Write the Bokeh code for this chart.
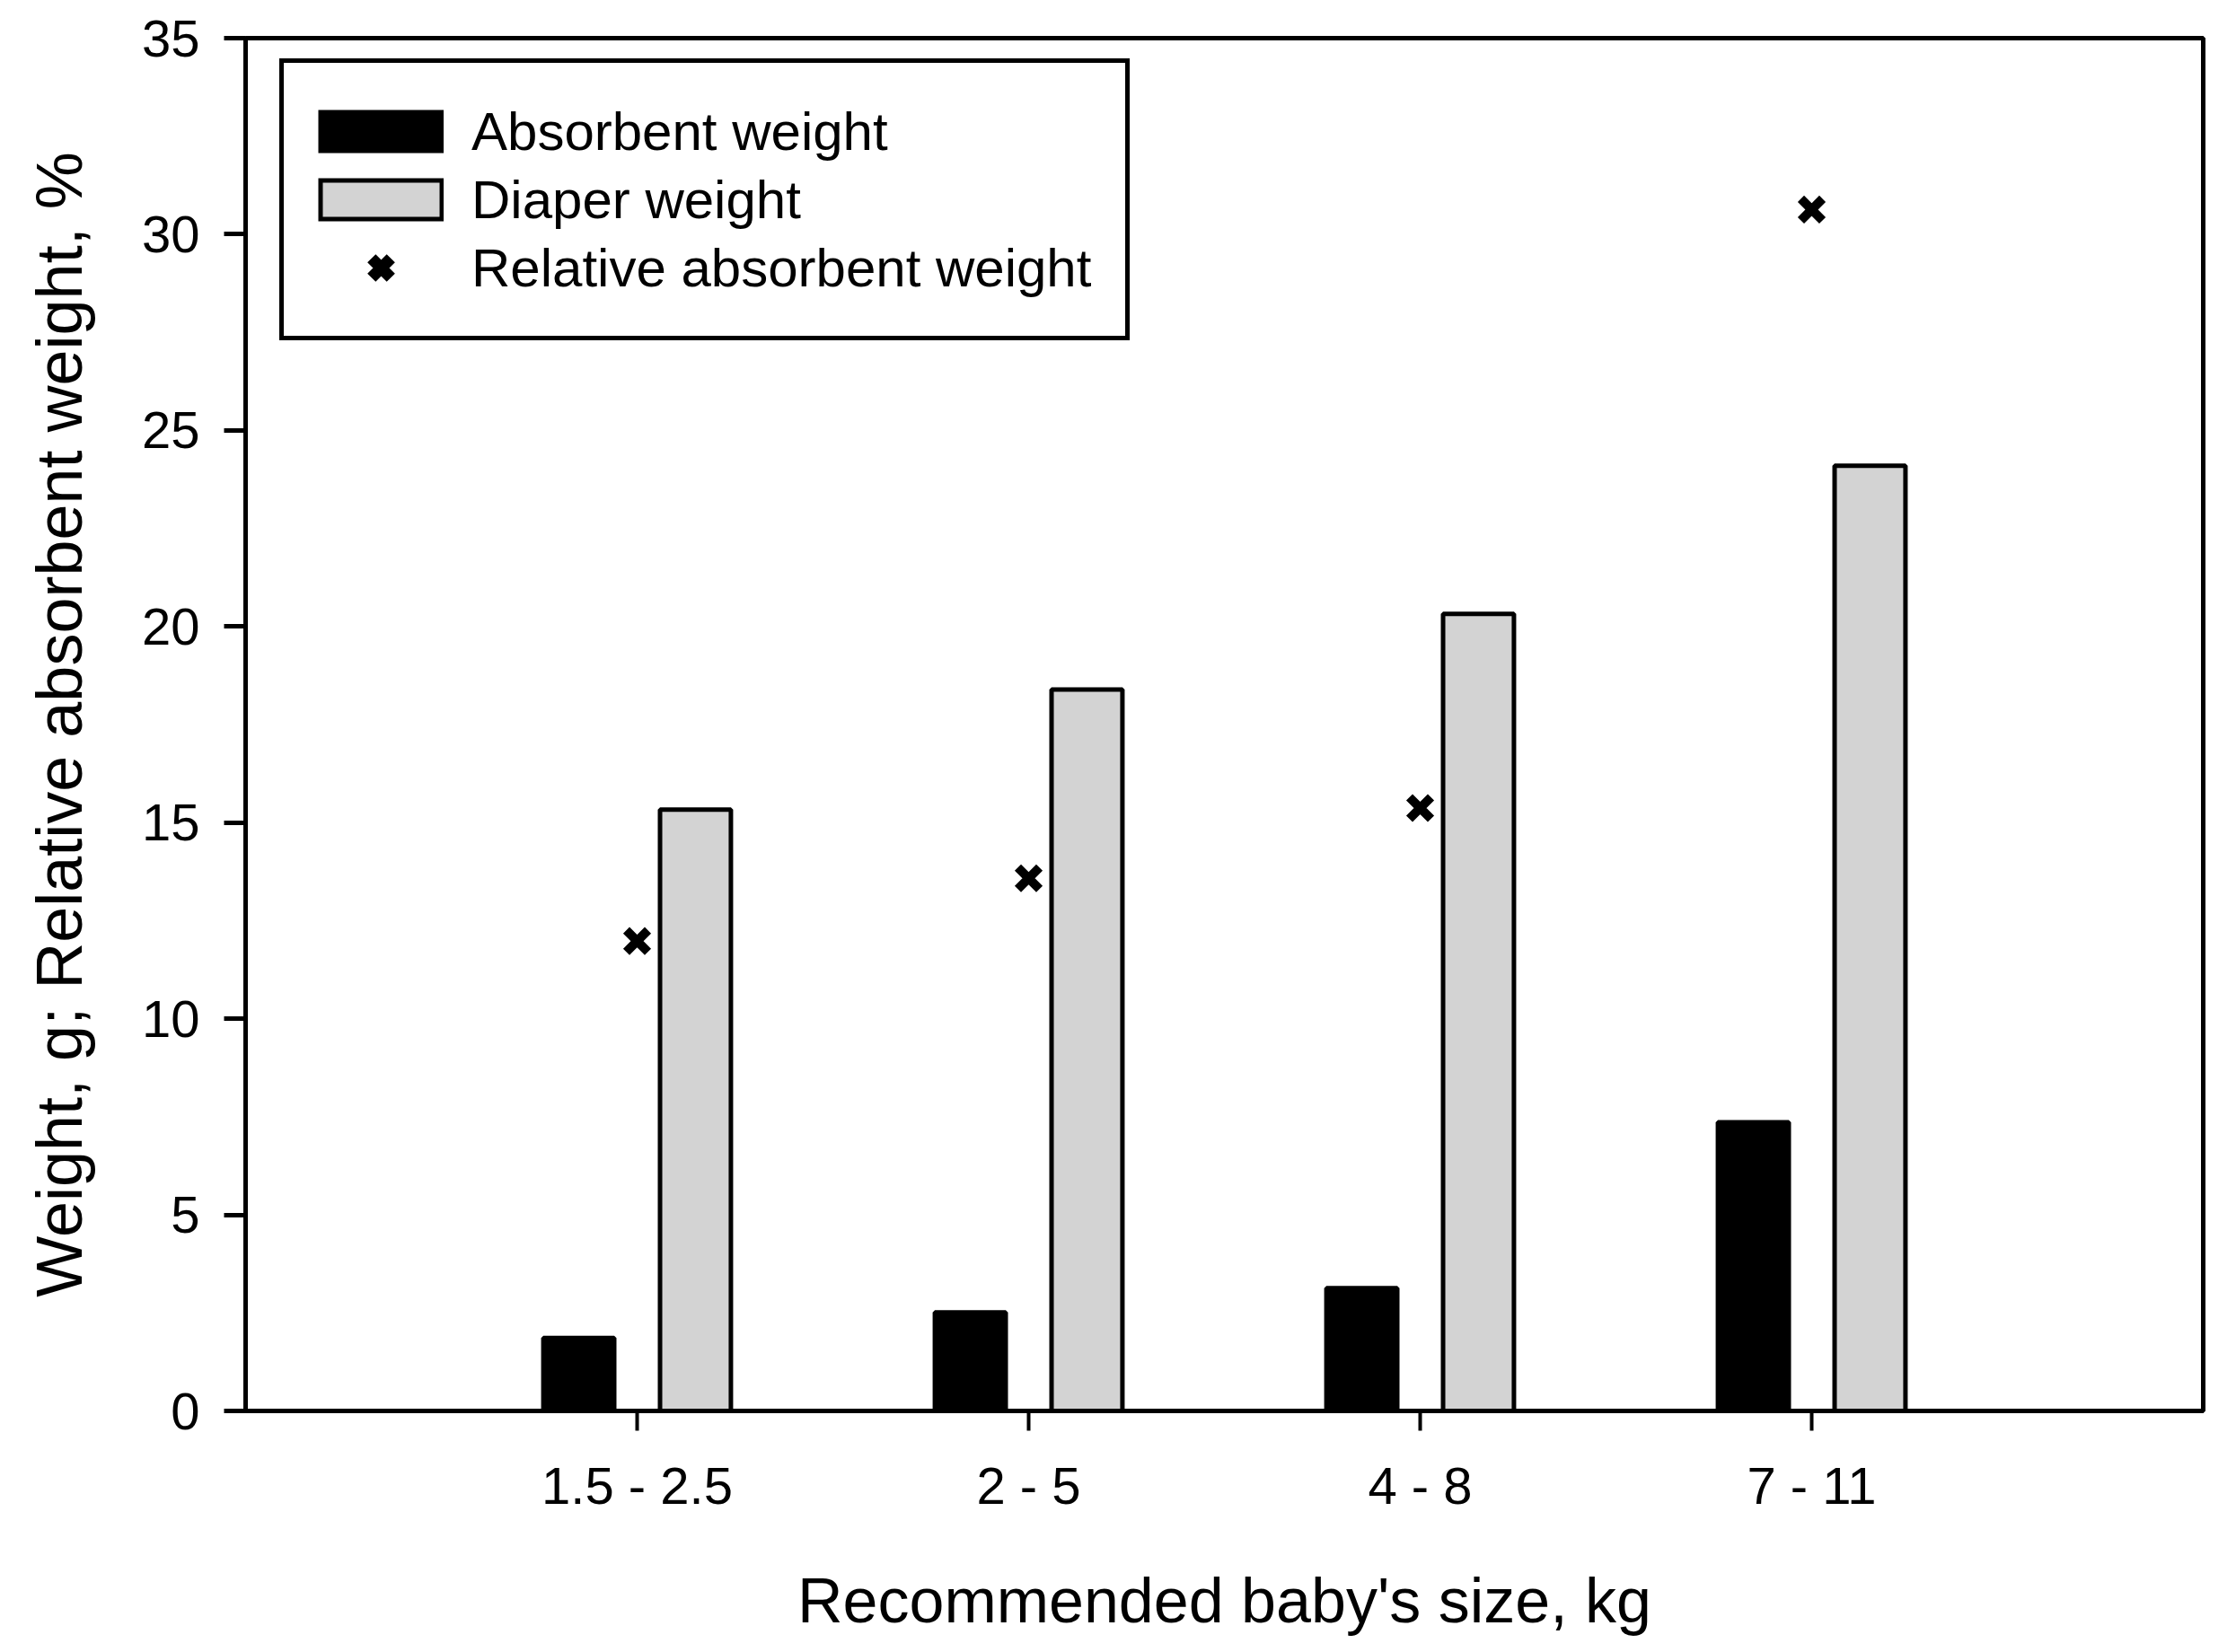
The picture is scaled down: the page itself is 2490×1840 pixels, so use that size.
from bokeh.plotting import figure
from bokeh.models import Range1d, FixedTicker, Legend, LegendItem, ColumnDataSource
from bokeh.transform import dodge
from bokeh.embed import file_html
from bokeh.resources import INLINE

# ---- data ----
categories = ["1.5 - 2.5", "2 - 5", "4 - 8", "7 - 11"]
positions = [1, 2, 3, 4]
absorbent_weight = [1.86, 2.51, 3.13, 7.36]
diaper_weight = [15.33, 18.39, 20.32, 24.1]
relative_absorbent = [11.98, 13.58, 15.37, 30.63]
y_ticks = [0, 5, 10, 15, 20, 25, 30, 35]

FONT = "Liberation Sans"
NAN = float("nan")

p = figure(width=2474, height=1824, output_backend="svg", toolbar_location=None,
           x_range=Range1d(0, 5), y_range=Range1d(0, 35),
           min_border_left=273, min_border_right=21, min_border_top=42,
           min_border_bottom=253)
p.grid.visible = False
p.background_fill_color = "white"
p.border_fill_color = "white"
p.outline_line_color = "black"
p.outline_line_alpha = 1
p.outline_line_width = 5

src = ColumnDataSource(dict(x=positions, cat=categories, absorbent=absorbent_weight,
                            diaper=diaper_weight, relative=relative_absorbent))

r1 = p.vbar(x=dodge("x", -0.149), top="absorbent", width=0.181, source=src,
            fill_color="black", line_color="black", line_width=5)
r2 = p.vbar(x=dodge("x", 0.149), top="diaper", width=0.181, source=src,
            fill_color="#d3d3d3", line_color="black", line_width=5)
r3 = p.scatter(x="x", y="relative", source=src, marker="x", size=34,
               line_color="black", line_width=10)

# legend swatch proxies (NaN data: nothing drawn in the plot, only in the legend)
proxy = ColumnDataSource(dict(x=[NAN, NAN], y=[NAN, NAN]))
sw_black = p.line(x="x", y="y", source=proxy, line_color="black", line_width=48)
sw_grey_edge = p.line(x="x", y="y", source=proxy, line_color="black", line_width=48)
sw_grey_fill = p.line(x="x", y="y", source=proxy, line_color="#d3d3d3", line_width=38,
                      line_dash="0 5 130 1000")
sw_cross = p.scatter(x="x", y="y", source=proxy, marker="x", line_color="black",
                     line_width=13)

# x axis
xa = p.xaxis[0]
xa.ticker = FixedTicker(ticks=positions)
xa.major_label_overrides = {pos: cat for pos, cat in zip(positions, categories)}
xa.axis_line_width = 5
xa.major_tick_line_width = 4
xa.major_tick_out = 22
xa.major_tick_in = 0
xa.minor_tick_line_color = None
xa.major_label_text_font = FONT
xa.major_label_text_font_size = "58px"
xa.major_label_text_color = "black"
xa.major_label_standoff = 28
xa.axis_label = "Recommended baby's size, kg"
xa.axis_label_text_font = FONT
xa.axis_label_text_font_size = "70px"
xa.axis_label_text_font_style = "normal"
xa.axis_label_text_color = "black"
xa.axis_label_standoff = 54

# y axis
ya = p.yaxis[0]
ya.ticker = FixedTicker(ticks=y_ticks)
ya.axis_line_width = 5
ya.major_tick_line_width = 5
ya.major_tick_out = 24
ya.major_tick_in = 0
ya.minor_tick_line_color = None
ya.major_label_text_font = FONT
ya.major_label_text_font_size = "58px"
ya.major_label_text_color = "black"
ya.major_label_standoff = 27
ya.axis_label = "Weight, g; Relative absorbent weight, %"
ya.axis_label_text_font = FONT
ya.axis_label_text_font_size = "72px"
ya.axis_label_text_font_style = "normal"
ya.axis_label_text_color = "black"
ya.axis_label_standoff = 49

legend = Legend(items=[
    LegendItem(label="Absorbent weight", renderers=[sw_black]),
    LegendItem(label="Diaper weight", renderers=[sw_grey_edge, sw_grey_fill]),
    LegendItem(label="Relative absorbent weight", renderers=[sw_cross]),
], location=(38, 1192))
legend.margin = 0
legend.padding = 38
legend.spacing = 0
legend.glyph_width = 140
legend.glyph_height = 76
legend.label_height = 70
legend.label_standoff = 31
legend.label_text_font = FONT
legend.label_text_font_size = "60px"
legend.label_text_color = "black"
legend.border_line_color = "black"
legend.border_line_alpha = 1
legend.border_line_width = 5
legend.background_fill_color = "white"
legend.background_fill_alpha = 1
p.add_layout(legend)

open("out.html", "w").write(file_html(p, INLINE))
